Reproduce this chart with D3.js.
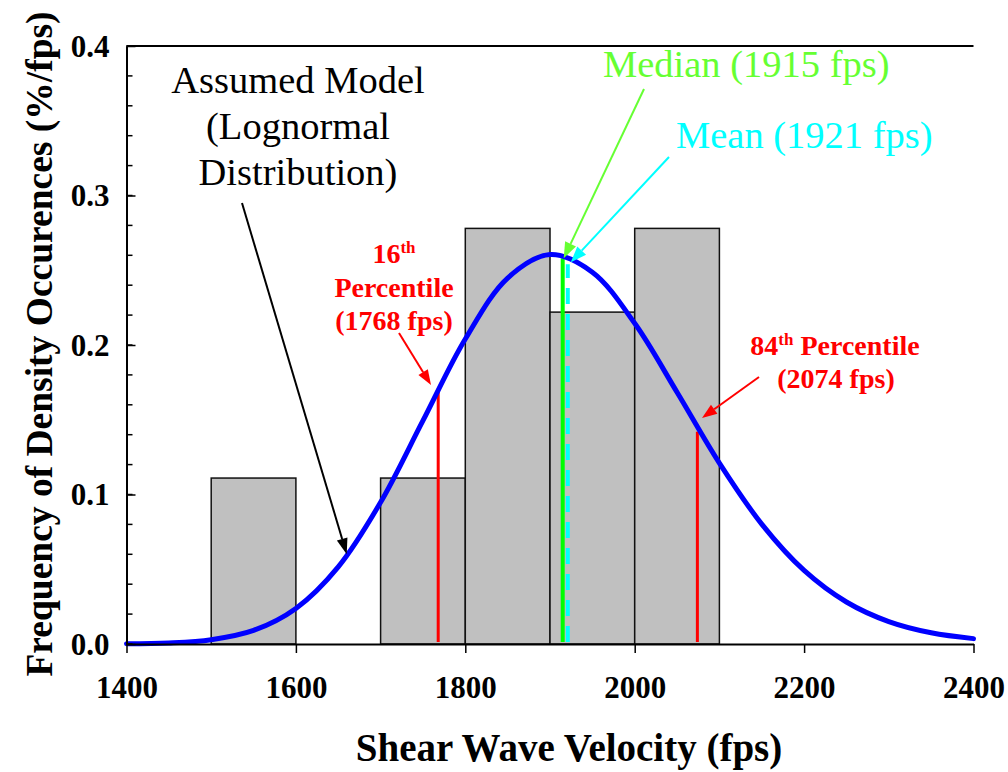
<!DOCTYPE html>
<html>
<head>
<meta charset="utf-8">
<script src="https://cdn.jsdelivr.net/npm/d3@7"></script>
<style>
  html, body { margin: 0; padding: 0; background: #ffffff; }
  svg { display: block; }
  text { font-family: "Liberation Serif", "Times New Roman", serif; }
</style>
</head>
<body>
<svg id="chart" width="1008" height="772"></svg>
<script>
// Histogram of measured shear wave velocities (bin edges, fps) and density (%/fps)
const binLow = [1500, 1700, 1800, 1900, 2000];
const binHigh = [1600, 1800, 1900, 2000, 2100];
const binDensity = [0.111, 0.111, 0.278, 0.222, 0.278];

// Fitted lognormal model, sampled every 50 fps
const modelVelocity = [1400, 1450, 1500, 1550, 1600, 1650, 1700, 1750, 1800, 1850, 1900,
                       1950, 2000, 2050, 2100, 2150, 2200, 2250, 2300, 2350, 2400];
const modelDensity = [0.0001, 0.0007, 0.0029, 0.0091, 0.0238, 0.0516, 0.0948, 0.1494, 0.2040, 0.2448, 0.2605,
                      0.2487, 0.2145, 0.1684, 0.1210, 0.0802, 0.0492, 0.0281, 0.0150, 0.0075, 0.0036];

// Statistics markers
const percentileVelocity = [1768, 2074];
const percentileTop = [0.169, 0.142];
const medianVelocity = 1915, medianTop = 0.258;
const meanVelocity = 1921, meanTop = 0.254;

// Axis ticks
const xTicks = [1400, 1600, 1800, 2000, 2200, 2400];
const yTicks = [0.0, 0.1, 0.2, 0.3, 0.4];
const yMinorTicks = d3.range(0, 0.4001, 0.02);

const svg = d3.select("#chart");
const x = d3.scaleLinear().domain([1400, 2400]).range([126.5, 973.5]);
const y = d3.scaleLinear().domain([0, 0.4]).range([644, 46]);

// Bars
svg.append("g").selectAll("rect")
  .data(binLow.map((lo, i) => ({ lo, hi: binHigh[i], d: binDensity[i] })))
  .join("rect")
  .attr("x", d => x(d.lo))
  .attr("y", d => y(d.d))
  .attr("width", d => x(d.hi) - x(d.lo))
  .attr("height", d => y(0) - y(d.d))
  .attr("fill", "#c0c0c0")
  .attr("stroke", "#111")
  .attr("stroke-width", 1.5);

// Percentile lines
svg.append("g").selectAll("line")
  .data(percentileVelocity.map((v, i) => ({ v, top: percentileTop[i] })))
  .join("line")
  .attr("x1", d => x(d.v)).attr("x2", d => x(d.v))
  .attr("y1", y(0) - 2).attr("y2", d => y(d.top))
  .attr("stroke", "#ff0000").attr("stroke-width", 3);

// Mean (dashed) and median lines
svg.append("line")
  .attr("x1", x(meanVelocity)).attr("x2", x(meanVelocity))
  .attr("y1", y(0) - 2).attr("y2", y(meanTop))
  .attr("stroke", "#00ffff").attr("stroke-width", 4)
  .attr("stroke-dasharray", "16,10");
svg.append("line")
  .attr("x1", x(medianVelocity)).attr("x2", x(medianVelocity))
  .attr("y1", y(0) - 2).attr("y2", y(medianTop))
  .attr("stroke", "#00ff00").attr("stroke-width", 4);

// Lognormal curve
const line = d3.line()
  .x((d, i) => x(modelVelocity[i]))
  .y(d => y(d))
  .curve(d3.curveCatmullRom);
svg.append("path")
  .attr("d", line(modelDensity))
  .attr("fill", "none")
  .attr("stroke", "#0000ff")
  .attr("stroke-width", 5)
  .attr("stroke-linecap", "round");

// Axes
const xAxis = d3.axisBottom(x).tickValues(xTicks).tickSize(9).tickSizeOuter(0).tickFormat(d3.format("d"));
const gx = svg.append("g").attr("transform", `translate(0,${y(0)})`).call(xAxis);
gx.select(".domain").attr("stroke", "#000").attr("stroke-width", 2);
gx.selectAll(".tick line").attr("stroke", "#000").attr("stroke-width", 1.5);
gx.selectAll(".tick text")
  .attr("font-weight", "bold").attr("font-size", 31).attr("fill", "#000")
  .attr("dy", 0).attr("y", 54);

const yAxis = d3.axisLeft(y).tickValues(yTicks).tickSize(-9).tickSizeOuter(0).tickFormat(d3.format(".1f"));
const gy = svg.append("g").attr("transform", `translate(${x(1400)},0)`).call(yAxis);
gy.select(".domain").attr("stroke", "#000").attr("stroke-width", 2);
gy.selectAll(".tick line").attr("stroke", "#000").attr("stroke-width", 1.5);
gy.selectAll(".tick text")
  .attr("font-weight", "bold").attr("font-size", 31).attr("fill", "#000")
  .attr("x", -17).attr("dy", "0.33em");

// Minor y ticks (inside)
svg.append("g").selectAll("line")
  .data(yMinorTicks)
  .join("line")
  .attr("x1", x(1400)).attr("x2", x(1400) + 6)
  .attr("y1", d => y(d)).attr("y2", d => y(d))
  .attr("stroke", "#000").attr("stroke-width", 1.5);

// Top frame line
svg.append("line")
  .attr("x1", x(1400)).attr("x2", x(2400))
  .attr("y1", y(0.4)).attr("y2", y(0.4))
  .attr("stroke", "#000").attr("stroke-width", 2);

// Axis titles
svg.append("text")
  .attr("x", 569).attr("y", 761)
  .attr("text-anchor", "middle")
  .attr("font-weight", "bold").attr("font-size", 39)
  .text("Shear Wave Velocity (fps)");
svg.append("text")
  .attr("transform", "translate(52,344) rotate(-90)")
  .attr("text-anchor", "middle")
  .attr("font-weight", "bold").attr("font-size", 37.5)
  .text("Frequency of Density Occurences (%/fps)");

// Arrow helper
function arrow(x1, y1, x2, y2, color, width, headLen, headW) {
  const ang = Math.atan2(y2 - y1, x2 - x1);
  const bx = x2 - headLen * Math.cos(ang), by = y2 - headLen * Math.sin(ang);
  svg.append("line")
    .attr("x1", x1).attr("y1", y1).attr("x2", bx).attr("y2", by)
    .attr("stroke", color).attr("stroke-width", width);
  const px = -Math.sin(ang) * headW / 2, py = Math.cos(ang) * headW / 2;
  svg.append("path")
    .attr("d", `M${x2},${y2}L${bx + px},${by + py}L${bx - px},${by - py}Z`)
    .attr("fill", color);
}

// Model annotation
const modelLabel = svg.append("text").attr("text-anchor", "middle").attr("font-size", 38.5);
["Assumed Model", "(Lognormal", "Distribution)"].forEach((t, i) => {
  modelLabel.append("tspan").attr("x", 298).attr("y", 93 + i * 46).text(t);
});
arrow(242, 203, x(1660), y(0.06), "#000", 2, 16, 11);

// 16th percentile annotation
const p16 = svg.append("text").attr("text-anchor", "middle").attr("fill", "#ff0000")
  .attr("font-weight", "bold").attr("font-size", 28);
const p16a = p16.append("tspan").attr("x", 394).attr("y", 263);
p16a.append("tspan").text("16");
p16a.append("tspan").attr("font-size", 17).attr("dy", -10).text("th");
p16.append("tspan").attr("x", 394).attr("y", 297).text("Percentile");
p16.append("tspan").attr("x", 394).attr("y", 330).text("(1768 fps)");
arrow(399, 333, 431, 385, "#ff0000", 2, 15, 11);

// 84th percentile annotation
const p84 = svg.append("text").attr("text-anchor", "middle").attr("fill", "#ff0000")
  .attr("font-weight", "bold").attr("font-size", 28);
const p84a = p84.append("tspan").attr("x", 835).attr("y", 355);
p84a.append("tspan").text("84");
p84a.append("tspan").attr("font-size", 17).attr("dy", -10).text("th");
p84a.append("tspan").attr("dy", 10).text(" Percentile");
p84.append("tspan").attr("x", 836).attr("y", 388).text("(2074 fps)");
arrow(759, 377, 702, 418, "#ff0000", 2, 15, 11);

// Median and mean annotations
svg.append("text").attr("x", 603).attr("y", 77)
  .attr("font-size", 38.5).attr("fill", "#66ff33")
  .text("Median (1915 fps)");
arrow(644, 89, x(medianVelocity) + 1, y(medianTop), "#66ff33", 2, 16, 12);

svg.append("text").attr("x", 676).attr("y", 148)
  .attr("font-size", 38.5).attr("fill", "#00ffff")
  .text("Mean (1921 fps)");
arrow(669, 157, x(meanVelocity) + 3, y(meanTop) - 2, "#00ffff", 2, 16, 12);
</script>
</body>
</html>
